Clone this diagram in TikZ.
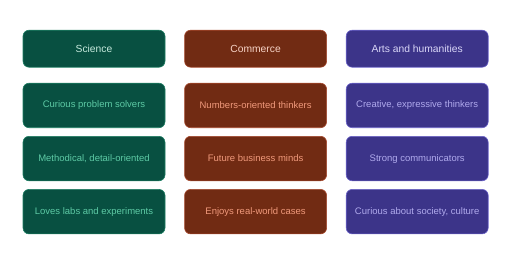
\documentclass[tikz,border=0pt]{standalone}
\usepackage{fontspec}
\setmainfont{Liberation Sans}
\usetikzlibrary{positioning}
\definecolor{scifill}{HTML}{085041}
\definecolor{sciline}{HTML}{1D7E62}
\definecolor{scihead}{HTML}{C6EADD}
\definecolor{scitext}{HTML}{5DCAA5}
\definecolor{comfill}{HTML}{712B13}
\definecolor{comline}{HTML}{A4462A}
\definecolor{comhead}{HTML}{F7D3C6}
\definecolor{comtext}{HTML}{F0997B}
\definecolor{artfill}{HTML}{3C3489}
\definecolor{artline}{HTML}{6A62C8}
\definecolor{arthead}{HTML}{DAD7F8}
\definecolor{arttext}{HTML}{AFA9EC}

\begin{document}
\begin{tikzpicture}[font=\fontsize{9.5}{11}\selectfont,
    ph/.style={draw,rounded corners=6pt,line width=0.6pt,minimum width=142pt,inner sep=2pt,align=center},
    hd/.style={ph,minimum height=37pt,font=\fontsize{10.3}{12}\selectfont},
    tr/.style={ph,minimum height=44.5pt},
    sci/.style={fill=scifill,draw=sciline,text=scitext},
    com/.style={fill=comfill,draw=comline,text=comtext},
    art/.style={fill=artfill,draw=artline,text=arttext}]
    \useasboundingbox (0,0) rectangle (512pt,-263pt);
    % column headers
    \node[hd,sci,text=scihead] (sci) at (94pt,-48.7pt) {Science};
    \node[hd,com,text=comhead,right=19pt of sci] (com) {Commerce};
    \node[hd,art,text=arthead,right=19pt of com] (art) {Arts and humanities};
    % traits
    \node[tr,sci,below=15.4pt of sci] (sci1) {Curious problem solvers};
    \node[tr,sci,below=8pt of sci1] (sci2) {Methodical, detail-oriented};
    \node[tr,sci,below=8pt of sci2] (sci3) {Loves labs and experiments};
    \node[tr,com,below=15.4pt of com] (com1) {Numbers-oriented thinkers};
    \node[tr,com,below=8pt of com1] (com2) {Future business minds};
    \node[tr,com,below=8pt of com2] (com3) {Enjoys real-world cases};
    \node[tr,art,below=15.4pt of art] (art1) {Creative, expressive thinkers};
    \node[tr,art,below=8pt of art1] (art2) {Strong communicators};
    \node[tr,art,below=8pt of art2] (art3) {Curious about society, culture};
  \end{tikzpicture}
\end{document}
